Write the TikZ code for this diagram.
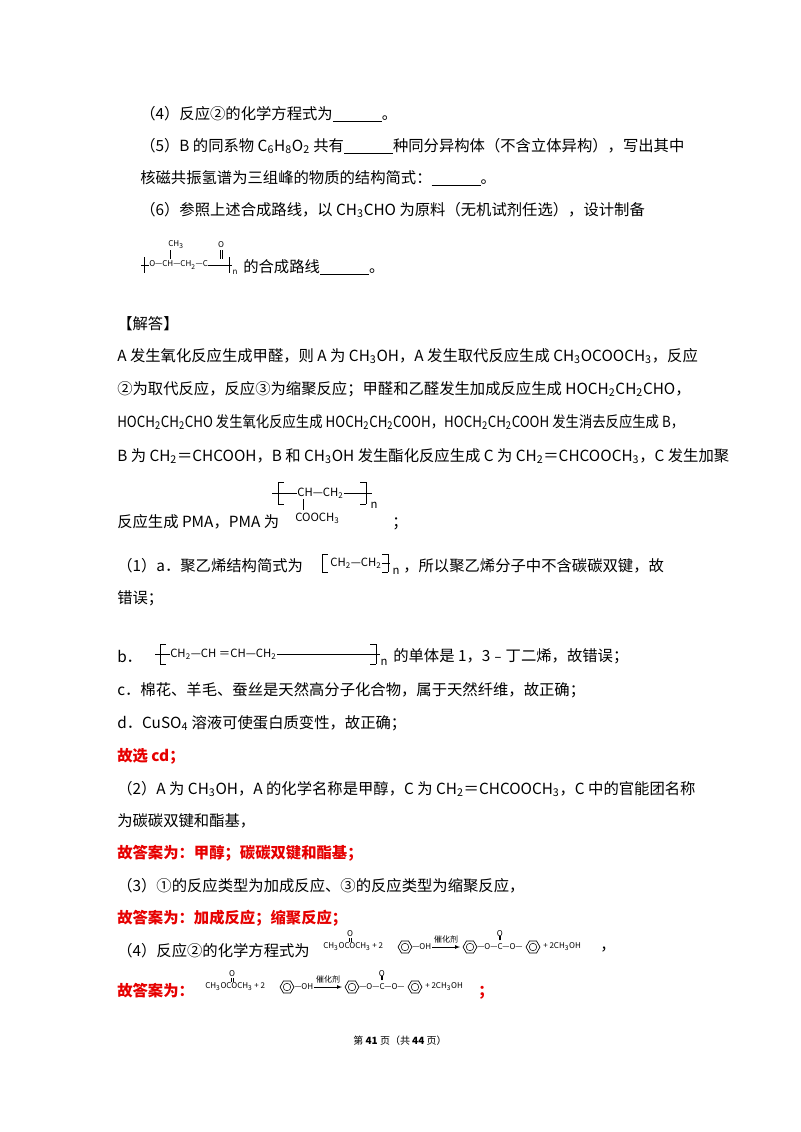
\documentclass[tikz,border=0pt]{standalone}
\usepackage{fontspec}
\setmainfont{Noto Sans CJK SC}
\usetikzlibrary{shapes.geometric}
\newcommand\chsub[1]{\textsubscript{#1}}
\definecolor{ansred}{RGB}{230,0,0}
\tikzset{
  tx/.style={anchor=west,inner sep=0pt,font=\fontsize{11.5pt}{13pt}\selectfont},
  rd/.style={tx,text=ansred,font=\fontsize{11.5pt}{13pt}\selectfont\bfseries},
  sm/.style={inner sep=0pt,font=\fontsize{6pt}{7pt}\selectfont},
  ch/.style={inner sep=0pt,font=\fontsize{8.5pt}{9pt}\selectfont},
  brk/.style={line width=0.6pt},
  benz/.pic={\draw[line width=0.5pt] (0,0) +(0:7) -- +(60:7) -- +(120:7) -- +(180:7) -- +(240:7) -- +(300:7) -- cycle; \draw[line width=0.4pt] (0,0) circle (3.8);}
}
\begin{document}
\begin{tikzpicture}[x=0.75pt,y=-0.75pt]
\useasboundingbox[fill=white] (0,0) rectangle (800,1132);
\node[tx] (l1) at (140,114) {（4）反应②的化学方程式为\underline{\hspace{3.2em}}。};
\node[tx] (l2) at (140,146) {（5）B 的同系物 C\chsub{6}H\chsub{8}O\chsub{2} 共有\underline{\hspace{3.2em}}种同分异构体（不含立体异构），写出其中};
\node[tx] (l3) at (140,178) {核磁共振氢谱为三组峰的物质的结构简式：\underline{\hspace{3.2em}}。};
\node[tx] (l4) at (140,210) {（6）参照上述合成路线，以 CH\chsub{3}CHO 为原料（无机试剂任选），设计制备};
% polymer 6
\node[sm,anchor=west] (p6) at (149,265) {O—CH—CH\chsub{2}—C};
\node[sm] (p6m) at (176,245) {CH\chsub{3}};
\draw (170,250) -- (170,259);
\node[sm] (p6o) at (221,245) {O};
\draw (220.2,250) -- (220.2,259) (221.8,250) -- (221.8,259);
\draw[brk] (141,265) -- (p6.west) (144,257) -- (144,273);
\draw[brk] (p6.east) -- (232,265) (229,257) -- (229,273);
\node[sm] (p6n) at (235,272) {\itshape n};
\node[tx] (l5) at (243,267) {的合成路线\underline{\hspace{3.2em}}。};
\node[tx] (h) at (117,324) {【解答】};
\node[tx] (a1) at (117,356) {A 发生氧化反应生成甲醛，则 A 为 CH\chsub{3}OH，A 发生取代反应生成 CH\chsub{3}OCOOCH\chsub{3}，反应};
\node[tx] (a2) at (117,389) {②为取代反应，反应③为缩聚反应；甲醛和乙醛发生加成反应生成 HOCH\chsub{2}CH\chsub{2}CHO，};
\node[tx] (a3) at (117,422) {\scalebox{0.87}[1]{HOCH\chsub{2}CH\chsub{2}CHO 发生氧化反应生成 HOCH\chsub{2}CH\chsub{2}COOH，HOCH\chsub{2}CH\chsub{2}COOH 发生消去反应生成 B，}};
\node[tx] (a4) at (117,456) {B 为 CH\chsub{2}＝CHCOOH，B 和 CH\chsub{3}OH 发生酯化反应生成 C 为 CH\chsub{2}＝CHCOOCH\chsub{3}，C 发生加聚};
% PMA
\node[ch,anchor=west] (pma) at (297,493) {CH—CH\chsub{2}};
\draw[brk] (272,493) -- (pma.west) (278,482) -- (278,504) (278,482) -- (284,482) (278,504) -- (284,504);
\draw[brk] (pma.east) -- (372,493) (366,482) -- (366,504) (360,482) -- (366,482) (360,504) -- (366,504);
\node[ch] (pman) at (374,505) {n};
\draw (303,499) -- (303,510);
\node[ch,anchor=west] (pmac) at (295,518) {COOCH\chsub{3}};
\node[tx] (a5) at (117,522) {反应生成 PMA，PMA 为};
\node[tx] (a5b) at (392,524) {；};
\node[tx] (q1) at (117,566) {（1）a．聚乙烯结构简式为};
\node[ch,anchor=west] (pe) at (330,563) {CH\chsub{2}—CH\chsub{2}};
\draw[brk] (322,554) -- (322,572) (322,554) -- (328,554) (322,572) -- (328,572);
\draw[brk] (pe.east) -- (390,563) (388,554) -- (388,572) (382,554) -- (388,554) (382,572) -- (388,572);
\node[ch] (pen) at (396,571) {n};
\node[tx] (q1b) at (403,566) {，所以聚乙烯分子中不含碳碳双键，故};
\node[tx] (q2) at (117,598) {错误；};
\node[tx] (qb) at (117,656) {b．};
\node[ch,anchor=west] (pb) at (170,654) {CH\chsub{2}—CH ＝CH—CH\chsub{2}};
\draw[brk] (155,654) -- (pb.west) (160,644) -- (160,664) (160,644) -- (166,644) (160,664) -- (166,664);
\draw[brk] (pb.east) -- (380,654) (376,644) -- (376,664) (370,644) -- (376,644) (370,664) -- (376,664);
\node[ch] (pbn) at (384,662) {n};
\node[tx] (qb2) at (393,656) {的单体是 1，3﹣丁二烯，故错误；};
\node[tx] (qc) at (117,690) {c．棉花、羊毛、蚕丝是天然高分子化合物，属于天然纤维，故正确；};
\node[tx] (qd) at (117,723) {d．CuSO\chsub{4} 溶液可使蛋白质变性，故正确；};
\node[rd] (r1) at (117,756) {故选 cd；};
\node[tx] (q3) at (117,789) {（2）A 为 CH\chsub{3}OH，A 的化学名称是甲醇，C 为 CH\chsub{2}＝CHCOOCH\chsub{3}，C 中的官能团名称};
\node[tx] (q4) at (117,821) {为碳碳双键和酯基，};
\node[rd] (r2) at (117,853) {故答案为：甲醇；碳碳双键和酯基；};
\node[tx] (q5) at (117,886) {（3）①的反应类型为加成反应、③的反应类型为缩聚反应，};
\node[rd] (r3) at (117,918) {故答案为：加成反应；缩聚反应；};
\node[tx] (q6) at (117,951) {（4）反应②的化学方程式为};
\node[rd] (r4) at (117,991) {故答案为：};
\foreach \dx/\yy/\nm in {0/947/e1,-118/987/e2}{
  \begin{scope}[shift={(\dx,\yy)}]
  \node[sm,anchor=west] (\nm a) at (323,0) {CH\chsub{3}OCOCH\chsub{3} + 2};
  \node[sm] (\nm ao) at (350,-13) {O};
  \draw[line width=0.3pt] (349.3,-9) -- (349.3,-5) (350.7,-9) -- (350.7,-5);
  \pic at (405,0) {benz};
  \node[sm,anchor=west] (\nm oh) at (412,0) {—OH};
  \coordinate (\nm s) at (432,0);
  \coordinate (\nm t) at (460,0);
  \draw[line width=0.3pt,-latex] (\nm s) -- (\nm t);
  \node[sm] (\nm k) at (446,-8) {催化剂};
  \pic at (470,0) {benz};
  \node[sm,anchor=west] (\nm b) at (477,0) {—O—C—O—};
  \node[sm] (\nm bo) at (\nm b.center) [yshift=10pt] {O};
  \draw[line width=0.3pt] ([xshift=-0.5pt,yshift=5pt]\nm b.center) -- ([xshift=-0.5pt,yshift=8pt]\nm b.center) ([xshift=0.5pt,yshift=5pt]\nm b.center) -- ([xshift=0.5pt,yshift=8pt]\nm b.center);
  \pic at (533,0) {benz};
  \node[sm,anchor=west] (\nm c) at (543,0) {+ 2CH\chsub{3}OH};
  \end{scope}}
\node[tx] (q6b) at (600,950) {，};
\node[rd] (r4b) at (478,993) {；};
\node[inner sep=0pt,font=\fontsize{7.5pt}{9pt}\selectfont] (ft) at (400,1041) {第 \textbf{41} 页（共 \textbf{44} 页）};
\end{tikzpicture}
\end{document}
